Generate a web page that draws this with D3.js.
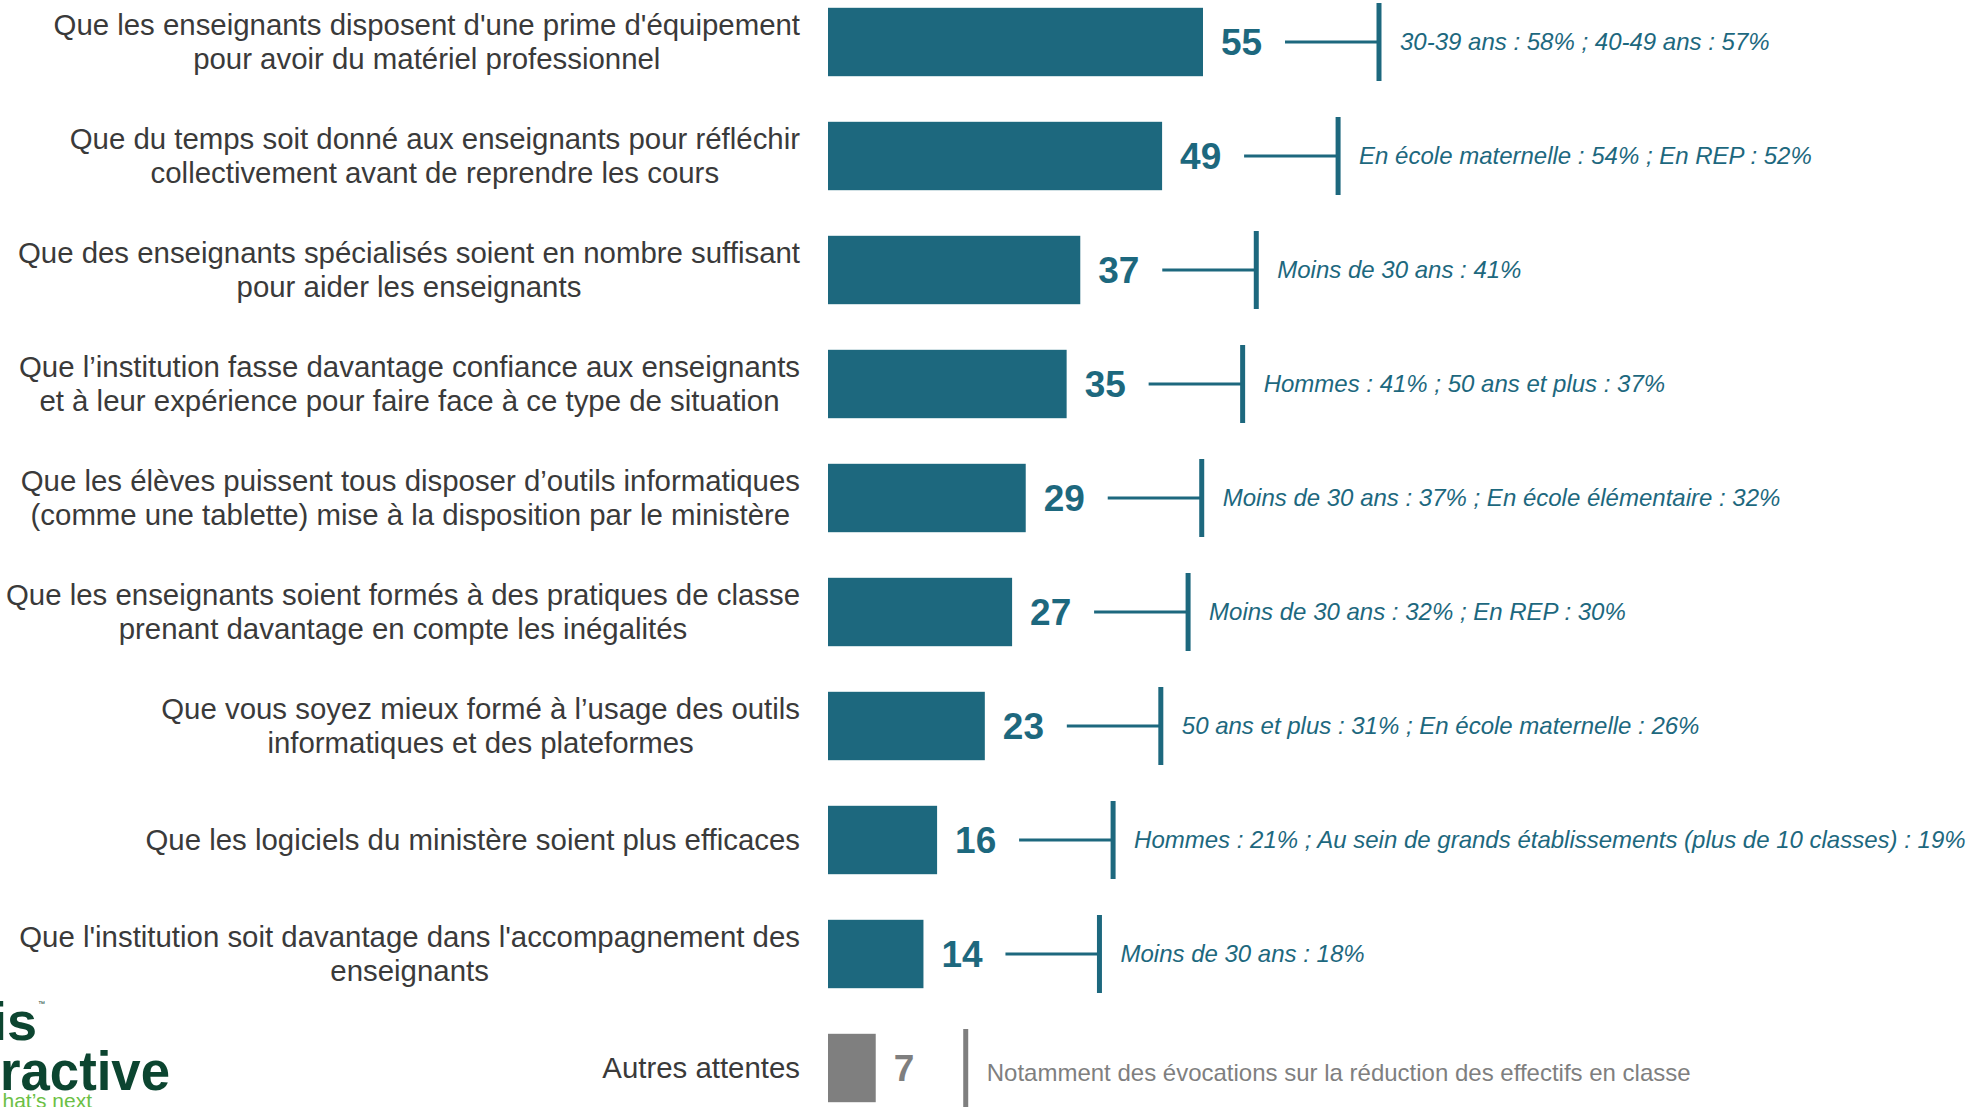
<!DOCTYPE html>
<html>
<head>
<meta charset="utf-8">
<script src="https://cdn.jsdelivr.net/npm/d3@7"></script>
<style>
  body { margin: 0; background: #fff; overflow: hidden; }
  text { font-family: "Liberation Sans", Arial, sans-serif; }
</style>
</head>
<body>
<div class="chart"></div>
<script>
// categories (lines split by "|"), values in %, and the detail notes shown on the right
const categories = [
    "Que les enseignants disposent d'une prime d'équipement|pour avoir du matériel professionnel",
    "Que du temps soit donné aux enseignants pour réfléchir|collectivement avant de reprendre les cours",
    "Que des enseignants spécialisés soient en nombre suffisant|pour aider les enseignants",
    "Que l’institution fasse davantage confiance aux enseignants|et à leur expérience pour faire face à ce type de situation",
    "Que les élèves puissent tous disposer d’outils informatiques|(comme une tablette) mise à la disposition par le ministère",
    "Que les enseignants soient formés à des pratiques de classe|prenant davantage en compte les inégalités",
    "Que vous soyez mieux formé à l’usage des outils|informatiques et des plateformes",
    "Que les logiciels du ministère soient plus efficaces",
    "Que l'institution soit davantage dans l'accompagnement des|enseignants",
    "Autres attentes"
];
const values = [55, 49, 37, 35, 29, 27, 23, 16, 14, 7];
const notes = [
    "30-39 ans : 58% ; 40-49 ans : 57%",
    "En école maternelle : 54% ; En REP : 52%",
    "Moins de 30 ans : 41%",
    "Hommes : 41% ; 50 ans et plus : 37%",
    "Moins de 30 ans : 37% ; En école élémentaire : 32%",
    "Moins de 30 ans : 32% ; En REP : 30%",
    "50 ans et plus : 31% ; En école maternelle : 26%",
    "Hommes : 21% ; Au sein de grands établissements (plus de 10 classes) : 19%",
    "Moins de 30 ans : 18%",
    "Notamment des évocations sur la réduction des effectifs en classe"
];
const otherCategory = "Autres attentes";

(() => {
    const width = 1977,
          height = 1107;

    const teal = '#1d687e',
          grey = '#7f7f7f',
          labelColor = '#3a3a3a';

    const data = categories.map((c, i) => ({
        id: i,
        lines: c.split('|'),
        value: values[i],
        note: notes[i],
        other: c === otherCategory
    }));

    const svg = d3.select('.chart')
        .append('svg')
        .attr('width', width)
        .attr('height', height);

    const x = d3.scaleLinear()
        .domain([0, 55])
        .range([828, 1203]);

    const y = d3.scaleBand()
        .domain(data.map(d => d.id))
        .range([-15, 1125])
        .paddingInner(0.4)
        .paddingOuter(0.2);

    const cy = d => y(d.id) + y.bandwidth() / 2;

    const rows = svg.selectAll('.row')
        .data(data)
        .enter().append('g')
        .attr('class', 'row');

    // bars
    rows.append('rect')
        .attr('x', x(0))
        .attr('y', d => y(d.id))
        .attr('width', d => x(d.value) - x(0))
        .attr('height', y.bandwidth())
        .attr('fill', d => d.other ? grey : teal);

    // category labels: block right-aligned to the bars, lines centred inside the block
    const labelRight = 800;
    rows.each(function(d) {
        const g = d3.select(this);
        const n = d.lines.length;
        const t = g.append('text')
            .attr('font-size', 29.4)
            .attr('fill', labelColor)
            .attr('text-anchor', 'middle');
        const spans = d.lines.map((line, k) => t.append('tspan')
            .attr('y', cy(d) + (k - (n - 1) / 2) * 34)
            .attr('dy', '0.35em')
            .text(line));
        const maxW = d3.max(spans, s => s.node().getComputedTextLength());
        spans.forEach(s => s.attr('x', labelRight - maxW / 2));
    });

    // value labels
    rows.append('text')
        .attr('x', d => x(d.value) + 18)
        .attr('y', cy)
        .attr('dy', '0.36em')
        .attr('font-size', 37)
        .attr('font-weight', 'bold')
        .attr('fill', d => d.other ? grey : teal)
        .text(d => d.value);

    const tickX = d => x(d.value) + (d.other ? 90 : 176);

    // connector
    rows.filter(d => !d.other).append('line')
        .attr('x1', d => x(d.value) + 82)
        .attr('x2', tickX)
        .attr('y1', cy)
        .attr('y2', cy)
        .attr('stroke', teal)
        .attr('stroke-width', 3);

    rows.append('line')
        .attr('x1', tickX)
        .attr('x2', tickX)
        .attr('y1', d => cy(d) - 39)
        .attr('y2', d => cy(d) + 39)
        .attr('stroke', d => d.other ? grey : teal)
        .attr('stroke-width', 5);

    // notes
    rows.append('text')
        .attr('x', d => tickX(d) + 21)
        .attr('y', d => cy(d) + (d.other ? 5 : 0))
        .attr('dy', '0.35em')
        .attr('font-size', 24)
        .attr('font-style', d => d.other ? 'normal' : 'italic')
        .attr('fill', d => d.other ? grey : teal)
        .text(d => d.note);

    // logo, cut by the left edge
    const logo = svg.append('g')
        .style('font-family', 'Inter, sans-serif');
    logo.append('text')
        .attr('x', 37).attr('y', 1040)
        .attr('text-anchor', 'end')
        .attr('font-size', 54).attr('font-weight', 800)
        .attr('fill', '#0c4530')
        .text('is');
    logo.append('text')
        .attr('x', 38).attr('y', 1006)
        .attr('font-size', 7)
        .attr('fill', '#0c4530')
        .text('™');
    logo.append('text')
        .attr('x', 0).attr('y', 1090)
        .attr('font-size', 56).attr('font-weight', 800)
        .attr('textLength', 170)
        .attr('lengthAdjust', 'spacingAndGlyphs')
        .attr('fill', '#0c4530')
        .text('ractive');
    logo.append('text')
        .attr('x', 92).attr('y', 1108)
        .attr('text-anchor', 'end')
        .attr('font-size', 21)
        .attr('fill', '#6cbf45')
        .text('hat’s next');
})();
</script>
</body>
</html>
